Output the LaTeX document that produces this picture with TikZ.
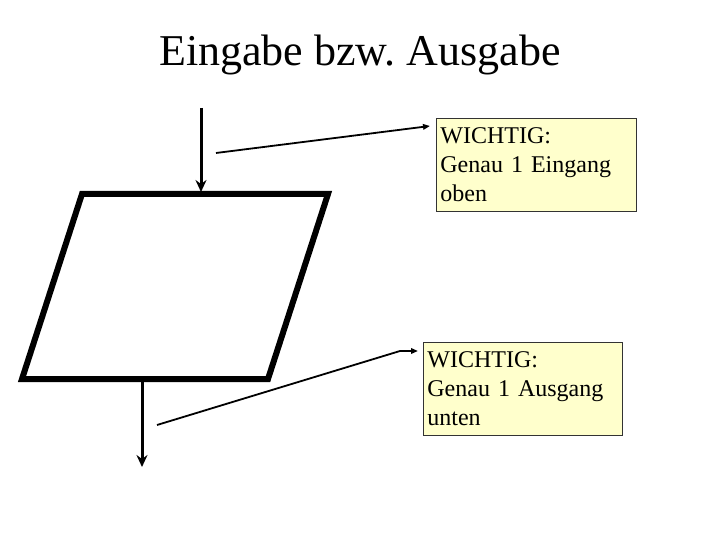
\documentclass[tikz,border=0pt]{standalone}
\usepackage{fontspec}
\setmainfont{Liberation Serif}
\usetikzlibrary{arrows.meta}
\definecolor{notefill}{HTML}{FFFFCC}
\tikzset{
  flowline/.style={line width=3pt, -{Stealth[length=12pt,width=11pt,inset=4pt]}},
  shapeline/.style={line width=6pt, line join=miter},
  noteline/.style={line width=1.8pt, -{Triangle[length=7pt,width=5.5pt]}},
  notebox/.style={draw=black!80, line width=0.8pt, fill=notefill, anchor=north west,
    font=\fontsize{24}{29}\selectfont, align=left, inner sep=4pt,
    minimum height=93pt}
}
\begin{document}
\begin{tikzpicture}[x=1pt,y=-1pt]
\useasboundingbox (0,0) rectangle (720,540);
\node[font=\fontsize{44}{50}\selectfont] (title) at (360,55) {Eingabe bzw.\ Ausgabe};
% parallelogram
\coordinate (tl) at (82,194);
\coordinate (tr) at (328,194);
\coordinate (br) at (268,379);
\coordinate (bl) at (22,379);
\draw[shapeline] (tl) -- (tr) -- (br) -- (bl) -- cycle;
% in/out arrows
\coordinate (inS) at (201,108);
\coordinate (inE) at (201,192);
\coordinate (outS) at (142,382);
\coordinate (outE) at (142,467);
\draw[flowline] (inS) -- (inE);
\draw[flowline] (outS) -- (outE);
% notes
\node[notebox, text width=192pt] (n1) at (436,118) {WICHTIG:\\Genau 1 Eingang\\oben};
\node[notebox, text width=191pt] (n2) at (423,342) {WICHTIG:\\Genau 1 Ausgang\\unten};
\coordinate (c1) at (216,153);
\coordinate (c2) at (157,425);
\coordinate (k2) at (400,351);
\draw[noteline] (c1) -- ([xshift=-6pt]n1.west |- 0,126);
\draw[noteline] (c2) -- (k2) -- ([xshift=-5pt]n2.west |- 0,351);
\end{tikzpicture}
\end{document}
